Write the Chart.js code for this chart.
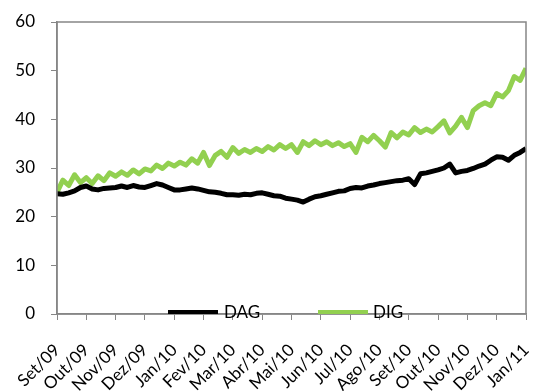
<!DOCTYPE html>
<html>
<head>
<meta charset="utf-8">
<script src="https://cdn.jsdelivr.net/npm/chart.js"></script>
<style>
  html, body { margin: 0; padding: 0; background: #fff; overflow: hidden; }
  #wrap { position: relative; width: 536px; height: 391px; }
  .leg { position: absolute; font-family: Lato, sans-serif; font-size: 17px; color: #000; line-height: 1; }
  .leg span.sw { position: absolute; height: 4px; width: 50px; }
</style>
</head>
<body>
<div id="wrap">
  <canvas id="chartCanvas" width="536" height="391"></canvas>
  <div class="leg" style="left:168px; top:303px;"><span class="sw" style="background:#000; top:7px; left:0;"></span><span style="position:absolute; left:56px; top:0;">DAG</span></div>
  <div class="leg" style="left:318px; top:303px;"><span class="sw" style="background:#92D050; top:7px; left:0;"></span><span style="position:absolute; left:55px; top:0;">DIG</span></div>
</div>
<script>
// Month labels on the x axis (one tick per month)
const months = ['Set/09', 'Out/09', 'Nov/09', 'Dez/09', 'Jan/10', 'Fev/10', 'Mar/10', 'Abr/10', 'Mai/10',
  'Jun/10', 'Jul/10', 'Ago/10', 'Set/10', 'Out/10', 'Nov/10', 'Dez/10', 'Jan/11'];

// Five readings per month
const dag = [
  24.7, 24.6, 24.9, 25.3, 26.0,
  26.3, 25.7, 25.5, 25.8, 25.9,
  26.0, 26.3, 26.0, 26.4, 26.1,
  26.0, 26.4, 26.8, 26.5, 26.0,
  25.5, 25.5, 25.7, 25.9, 25.7,
  25.4, 25.1, 25.0, 24.8, 24.5,
  24.5, 24.4, 24.6, 24.5, 24.8,
  24.9, 24.6, 24.3, 24.2, 23.8,
  23.6, 23.4, 23.0, 23.6, 24.1,
  24.3, 24.6, 24.9, 25.2, 25.3,
  25.8, 26.0, 25.9, 26.3, 26.5,
  26.8, 27.0, 27.2, 27.4, 27.5,
  27.8, 26.6, 28.8, 29.0, 29.3,
  29.6, 30.0, 30.8, 29.0, 29.3,
  29.5, 29.9, 30.4, 30.8, 31.6,
  32.3, 32.2, 31.6, 32.6, 33.2,
  34.0
];
const dig = [
  25.0, 27.5, 26.4, 28.6, 27.0,
  28.0, 26.8, 28.4, 27.4, 29.0,
  28.3, 29.2, 28.5, 29.6, 28.8,
  29.8, 29.4, 30.6, 29.9, 31.0,
  30.4, 31.2, 30.6, 31.9, 31.0,
  33.2, 30.5, 32.6, 33.4, 32.2,
  34.2, 33.0, 33.8, 33.2, 34.0,
  33.4, 34.4, 33.7, 34.8, 34.0,
  34.8, 33.2, 35.4, 34.6, 35.6,
  34.8, 35.4, 34.6, 35.2, 34.4,
  35.0, 33.2, 36.3, 35.4, 36.7,
  35.6, 34.3, 37.3, 36.2, 37.4,
  36.8, 38.3, 37.3, 38.0, 37.4,
  38.5, 39.7, 37.2, 38.6, 40.4,
  38.3, 41.8, 42.8, 43.4, 42.8,
  45.3, 44.6, 45.9, 48.8, 48.0,
  50.5
];
const perMonth = 5;

const toPoints = arr => arr.map((v, i) => ({ x: i / perMonth, y: v }));

const axisGray = '#868686';

// draws the box round the plot area
const frame = {
  id: 'frame',
  afterDraw(chart) {
    const { ctx, chartArea: a } = chart;
    ctx.save();
    ctx.strokeStyle = axisGray;
    ctx.lineWidth = 1.5;
    ctx.strokeRect(a.left, a.top, a.right - a.left, a.bottom - a.top);
    ctx.restore();
  }
};

Chart.defaults.font.family = 'Lato, sans-serif';
Chart.defaults.color = '#000';

new Chart(document.getElementById('chartCanvas'), {
  type: 'line',
  data: {
    datasets: [
      { label: 'DAG', data: toPoints(dag), borderColor: '#000', borderWidth: 5, pointRadius: 0, borderJoinStyle: 'round', order: 1 },
      { label: 'DIG', data: toPoints(dig), borderColor: '#92D050', borderWidth: 5, pointRadius: 0, borderJoinStyle: 'round', order: 2 }
    ]
  },
  options: {
    responsive: false,
    animation: false,
    layout: { padding: { top: 22, right: 10, left: 0, bottom: 0 } },
    plugins: { legend: { display: false }, tooltip: { enabled: false } },
    scales: {
      x: {
        type: 'linear',
        min: 0,
        max: months.length - 1,
        afterFit: s => { s.height = 77; s.paddingLeft = 0; s.paddingRight = 0; },
        ticks: {
          stepSize: 1,
          autoSkip: false,
          minRotation: 45,
          maxRotation: 45,
          padding: 20,
          font: { size: 17 },
          callback: v => months[v]
        },
        grid: { drawOnChartArea: false, color: axisGray, tickLength: 6 },
        border: { color: axisGray, width: 1.5 }
      },
      y: {
        min: 0,
        max: 60,
        afterFit: s => { s.width = 57; s.paddingTop = 0; s.paddingBottom = 0; },
        ticks: { stepSize: 10, padding: 16, font: { size: 17 } },
        grid: { drawOnChartArea: false, color: axisGray, tickLength: 6 },
        border: { color: axisGray, width: 1.5 }
      }
    }
  },
  plugins: [frame]
});
</script>
</body>
</html>
